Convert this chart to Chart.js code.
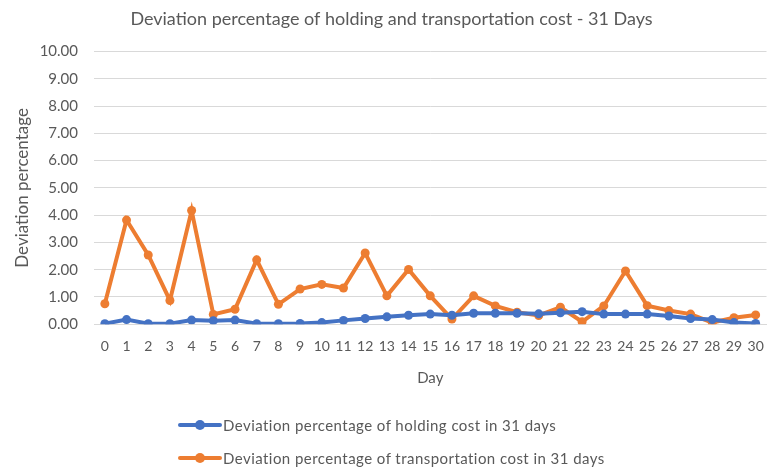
<!DOCTYPE html>
<html>
<head>
<meta charset="utf-8">
<script src="https://cdn.jsdelivr.net/npm/chart.js@4.4.1/dist/chart.umd.min.js"></script>
<style>
  body { margin: 0; background: #fff; }
  #wrap { position: relative; width: 771px; height: 470px; }
  #legend { position: absolute; left: 178px; top: 408px; font-family: Lato, "Open Sans", sans-serif; font-size: 15px; letter-spacing: 0.45px; color: #595959; }
  #legend .row { display: flex; align-items: center; height: 33px; }
  #legend .swatch { position: relative; width: 44px; height: 4px; margin-right: 1px; border-radius: 2px; }
  #legend .dot { position: absolute; left: 17px; top: -3px; width: 10px; height: 10px; border-radius: 50%; }
</style>
</head>
<body>
<div id="wrap">
  <canvas id="myChart" width="771" height="470"></canvas>
  <div id="legend"></div>
</div>
<script>
// days on the x axis
var days = [];
for (var d = 0; d <= 30; d++) { days.push(String(d)); }

// deviation percentage per day
var holdingCost = [0.02, 0.17, 0.02, 0.02, 0.15, 0.13, 0.15, 0.02, 0.02, 0.03, 0.06, 0.14, 0.21, 0.27, 0.33, 0.37,
                   0.33, 0.40, 0.40, 0.40, 0.38, 0.42, 0.46, 0.37, 0.37, 0.37, 0.30, 0.21, 0.17, 0.06, 0.03];
var transportCost = [0.75, 3.82, 2.54, 0.87, 4.17, 0.36, 0.55, 2.36, 0.73, 1.29, 1.46, 1.33, 2.61, 1.04, 2.01, 1.04,
                     0.19, 1.04, 0.67, 0.44, 0.32, 0.62, 0.09, 0.67, 1.95, 0.68, 0.50, 0.37, 0.06, 0.24, 0.34];

var seriesNames = ['Deviation percentage of holding cost in 31 days',
                   'Deviation percentage of transportation cost in 31 days'];

var grey = '#595959';
var font = 'Lato, "Open Sans", sans-serif';

var ctx = document.getElementById('myChart').getContext('2d');

function series(label, values, color) {
  return {
    label: label,
    data: values,
    borderColor: color,
    backgroundColor: color,
    borderWidth: 4,
    pointRadius: 4.5,
    pointBorderWidth: 0,
    tension: 0,
    fill: false
  };
}

var myLineChart = new Chart(ctx, {
  type: 'line',
  data: {
    labels: days,
    datasets: [
      series(seriesNames[0], holdingCost, '#4472C4'),
      series(seriesNames[1], transportCost, '#ED7D31')
    ]
  },
  options: {
    responsive: false,
    animation: false,
    layout: { padding: { left: 12, right: 0, top: 4, bottom: 79 } },
    plugins: {
      legend: { display: false },
      tooltip: { enabled: false },
      title: {
        display: true,
        text: 'Deviation percentage of holding and transportation cost - 31 Days',
        color: grey,
        font: { family: font, size: 18, weight: 'normal' },
        padding: { top: 4, bottom: 22 }
      }
    },
    scales: {
      x: {
        offset: true,
        grid: { display: false },
        border: { display: true, color: '#d9d9d9', width: 1 },
        ticks: { color: grey, font: { family: font, size: 14 }, maxRotation: 0, autoSkip: false, padding: 6 },
        title: { display: true, text: 'Day', color: grey, font: { family: font, size: 15 }, padding: { top: 8 } }
      },
      y: {
        min: 0,
        max: 10,
        grid: { color: '#d9d9d9', drawTicks: false },
        border: { display: false },
        // fixed axis width so the title sits close to the tick labels
        afterFit: function (scale) { scale.width = 82; },
        ticks: {
          stepSize: 1,
          color: grey,
          padding: 16,
          font: { family: font, size: 15 },
          callback: function (v) { return v.toFixed(2); }
        },
        title: { display: true, text: 'Deviation percentage', color: grey, font: { family: font, size: 17 }, padding: 0 }
      }
    }
  }
});

// legend stacked under the chart, one entry per row
var legendBox = document.getElementById('legend');
myLineChart.data.datasets.forEach(function (ds) {
  var row = document.createElement('div');
  row.className = 'row';
  var sw = document.createElement('span');
  sw.className = 'swatch';
  sw.style.background = ds.borderColor;
  var dot = document.createElement('span');
  dot.className = 'dot';
  dot.style.background = ds.borderColor;
  sw.appendChild(dot);
  var txt = document.createElement('span');
  txt.textContent = ds.label;
  row.appendChild(sw);
  row.appendChild(txt);
  legendBox.appendChild(row);
});
</script>
</body>
</html>
